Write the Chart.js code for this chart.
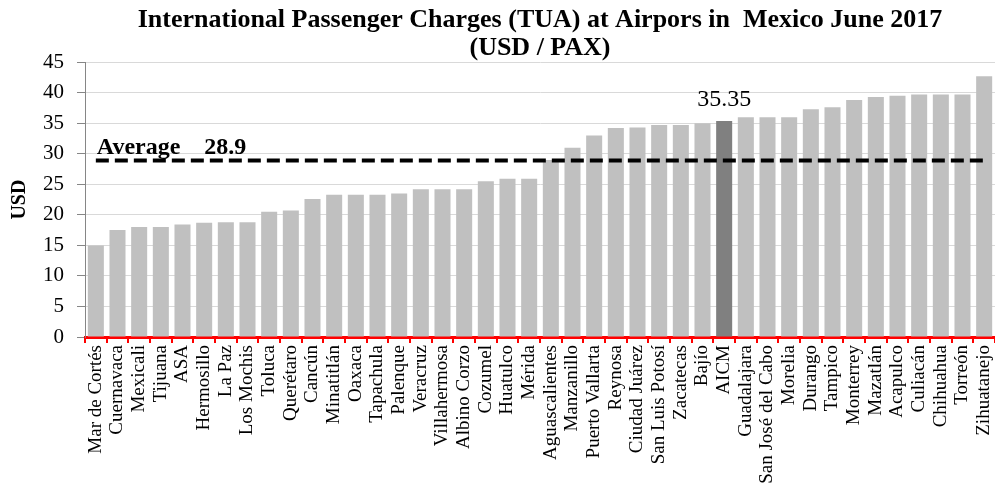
<!DOCTYPE html>
<html>
<head>
<meta charset="utf-8">
<script src="https://cdn.jsdelivr.net/npm/chart.js@4.4.1/dist/chart.umd.min.js"></script>
<style>
  html, body { margin: 0; padding: 0; background: #fff; }
</style>
</head>
<body>
<canvas id="tuaChart" width="995" height="485"></canvas>
<script>
// airports, sorted by charge as in the source
const airports = [
  "Mar de Cortés", "Cuernavaca", "Mexicali", "Tijuana", "ASA", "Hermosillo", "La Paz",
  "Los Mochis", "Toluca", "Querétaro", "Cancún", "Minatitlán", "Oaxaca", "Tapachula",
  "Palenque", "Veracruz", "Villahermosa", "Albino Corzo", "Cozumel", "Huatulco", "Mérida",
  "Aguascalientes", "Manzanillo", "Puerto Vallarta", "Reynosa", "Ciudad Juárez",
  "San Luis Potosí", "Zacatecas", "Bajío", "AICM", "Guadalajara", "San José del Cabo",
  "Morelia", "Durango", "Tampico", "Monterrey", "Mazatlán", "Acapulco", "Culiacán",
  "Chihuahua", "Torreón", "Zihuatanejo"
];
const tuaUsd = [
  15.0, 17.5, 18.0, 18.0, 18.4, 18.7, 18.8,
  18.8, 20.5, 20.7, 22.6, 23.3, 23.3, 23.3,
  23.5, 24.2, 24.2, 24.2, 25.5, 25.9, 25.9,
  29.0, 31.0, 33.0, 34.2, 34.3,
  34.7, 34.7, 35.0, 35.35, 36.0, 36.0,
  36.0, 37.3, 37.6, 38.8, 39.3, 39.5, 39.7,
  39.7, 39.7, 42.7
];
const highlightAirport = "AICM";
const averageUsd = 28.9;
const yTicks = [0, 5, 10, 15, 20, 25, 30, 35, 40, 45];

const serif = "'Liberation Serif', 'Times New Roman', serif";

// text for the average line and the AICM value
const noteText = {
  id: "noteText",
  afterDatasetsDraw(chart) {
    const { ctx, scales: { x, y } } = chart;
    ctx.save();
    ctx.fillStyle = "#000";
    ctx.textBaseline = "alphabetic";
    ctx.font = "bold 24px " + serif;
    ctx.textAlign = "left";
    ctx.fillText("Average    " + averageUsd, x.getPixelForValue(0) + 1, y.getPixelForValue(averageUsd) - 6);

    const i = airports.indexOf(highlightAirport);
    ctx.font = "24px " + serif;
    ctx.textAlign = "center";
    ctx.fillText(String(tuaUsd[i]), x.getPixelForValue(i), y.getPixelForValue(tuaUsd[i]) - 15);
    ctx.restore();
  }
};

new Chart(document.getElementById("tuaChart"), {
  data: {
    labels: airports,
    datasets: [
      {
        type: "line",
        label: "Average",
        data: airports.map(() => averageUsd),
        borderColor: "#000",
        borderWidth: 4,
        borderDash: [13, 6],
        pointRadius: 0,
        fill: false,
        order: 0
      },
      {
        type: "bar",
        label: "TUA",
        data: tuaUsd,
        backgroundColor: airports.map(a => a === highlightAirport ? "#808080" : "#c0c0c0"),
        borderWidth: 0,
        categoryPercentage: 1,
        barPercentage: 0.74,
        order: 1
      }
    ]
  },
  options: {
    responsive: false,
    animation: false,
    layout: { padding: { left: 8, right: 0, top: 0, bottom: 0 } },
    plugins: {
      legend: { display: false },
      tooltip: { enabled: false },
      title: {
        display: true,
        fullSize: false,
        text: ["International Passenger Charges (TUA) at Airpors in  Mexico June 2017", "(USD / PAX)"],
        color: "#000",
        font: { family: serif, size: 26, weight: "bold", lineHeight: 1.08 },
        padding: { top: 6, bottom: 0 }
      }
    },
    scales: {
      x: {
        grid: {
          display: true,
          drawOnChartArea: false,
          color: "#ff0000",
          lineWidth: 2,
          tickLength: 6,
          offset: true
        },
        border: { color: "#ff0000", width: 3 },
        ticks: {
          color: "#000",
          font: { family: serif, size: 19 },
          minRotation: 90,
          maxRotation: 90,
          autoSkip: false,
          padding: 2
        },
        afterFit(scale) {
          scale.height = 148;
          scale.paddingLeft = 0;
          scale.paddingRight = 0;
        }
      },
      y: {
        min: 0,
        max: 45,
        afterBuildTicks(scale) { scale.ticks = yTicks.map(v => ({ value: v })); },
        grid: { color: "#d9d9d9", tickColor: "#868686", tickLength: 8, lineWidth: 1 },
        border: { color: "#868686", width: 1 },
        ticks: { color: "#000", font: { family: serif, size: 21 }, padding: 13 },
        title: {
          display: true,
          text: "USD",
          color: "#000",
          font: { family: serif, size: 20, weight: "bold" },
          padding: { top: 0, bottom: 0 }
        },
        afterFit(scale) { scale.width = 77; }
      }
    }
  },
  plugins: [noteText]
});
</script>
</body>
</html>
